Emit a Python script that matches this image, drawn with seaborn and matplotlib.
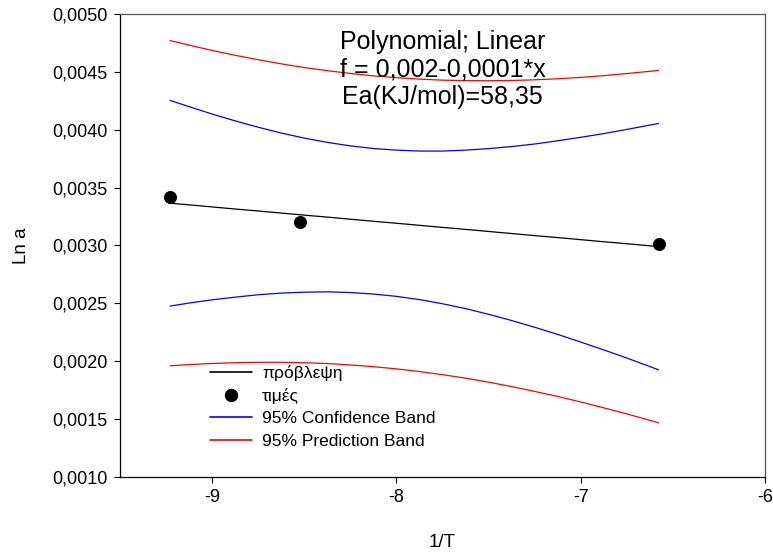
import sys

import numpy as np
import pandas as pd
import matplotlib
matplotlib.use("Agg")
import matplotlib.pyplot as plt
from matplotlib.lines import Line2D
from matplotlib.ticker import FuncFormatter
import seaborn as sns

#****************************************************************************
# data
#****************************************************************************

# measured points
pointX = [-9.228, -8.521, -6.578]
pointY = [0.003421, 0.003205, 0.003010]

# regression line and bands, sampled along x
bandX = [-9.228, -9.125, -9.0, -8.875, -8.75, -8.625, -8.5, -8.375, -8.25, -8.125, -8.0,
         -7.875, -7.75, -7.625, -7.5, -7.375, -7.25, -7.125, -7.0, -6.875, -6.75, -6.578]
fitY = [0.003364, 0.003350, 0.003332, 0.003314, 0.003297, 0.003279, 0.003261, 0.003244,
        0.003226, 0.003208, 0.003191, 0.003173, 0.003155, 0.003138, 0.003120, 0.003102,
        0.003084, 0.003067, 0.003049, 0.003031, 0.003014, 0.002989]
confHi = [0.004253, 0.004199, 0.004135, 0.004076, 0.004021, 0.003971, 0.003927, 0.003890,
          0.003860, 0.003837, 0.003823, 0.003815, 0.003815, 0.003823, 0.003836, 0.003854,
          0.003876, 0.003904, 0.003934, 0.003966, 0.004002, 0.004054]
confLo = [0.002475, 0.002501, 0.002529, 0.002552, 0.002573, 0.002587, 0.002595, 0.002598,
          0.002592, 0.002579, 0.002559, 0.002531, 0.002495, 0.002453, 0.002404, 0.002350,
          0.002292, 0.002230, 0.002164, 0.002096, 0.002026, 0.001924]
predHi = [0.004770, 0.004731, 0.004685, 0.004643, 0.004605, 0.004569, 0.004537, 0.004510,
          0.004486, 0.004465, 0.004450, 0.004437, 0.004428, 0.004424, 0.004423, 0.004425,
          0.004431, 0.004440, 0.004452, 0.004467, 0.004485, 0.004512]
predLo = [0.001958, 0.001969, 0.001979, 0.001985, 0.001989, 0.001989, 0.001985, 0.001978,
          0.001966, 0.001951, 0.001932, 0.001909, 0.001882, 0.001852, 0.001817, 0.001779,
          0.001737, 0.001694, 0.001646, 0.001595, 0.001543, 0.001466]

xTicks = [-9, -8, -7, -6]
yTicks = [0.0010, 0.0015, 0.0020, 0.0025, 0.0030, 0.0035, 0.0040, 0.0045, 0.0050]

#****************************************************************************

def main():
    sns.set_style("white")
    plt.rcParams['font.family'] = ['Liberation Sans', 'DejaVu Sans']
    plt.rcParams['axes.unicode_minus'] = False
    plt.rcParams['text.color'] = 'black'
    plt.rcParams['axes.labelcolor'] = 'black'

    fig = plt.figure(figsize=(7.73, 5.53), dpi=100)
    ax = fig.add_axes([0.1552, 0.138, 0.8345, 0.8367])

    dfrm = pd.DataFrame({'x': bandX, 'fit': fitY,
                         'confHi': confHi, 'confLo': confLo,
                         'predHi': predHi, 'predLo': predLo})
    pts = pd.DataFrame({'x': pointX, 'y': pointY})

    lw = 0.9
    sns.lineplot(data=dfrm, x='x', y='fit', ax=ax, color='black', lw=lw)
    sns.scatterplot(data=pts, x='x', y='y', ax=ax, color='black', s=75,
                    edgecolor='black', zorder=3)
    sns.lineplot(data=dfrm, x='x', y='confHi', ax=ax, color='blue', lw=lw)
    sns.lineplot(data=dfrm, x='x', y='confLo', ax=ax, color='blue', lw=lw)
    sns.lineplot(data=dfrm, x='x', y='predHi', ax=ax, color='red', lw=lw)
    sns.lineplot(data=dfrm, x='x', y='predLo', ax=ax, color='red', lw=lw)

    ax.set_xlim(-9.5, -6)
    ax.set_ylim(0.0010, 0.0050)
    ax.set_xticks(xTicks)
    ax.set_yticks(yTicks)
    ax.yaxis.set_major_formatter(FuncFormatter(lambda v, p: ("%.4f" % v).replace('.', ',')))
    ax.xaxis.set_major_formatter(FuncFormatter(lambda v, p: "%d" % v))
    ax.tick_params(axis='both', direction='out', length=4.2, width=0.8,
                   colors='black', labelsize=13, pad=5,
                   bottom=True, left=True)

    for side in ['left', 'bottom']:
        ax.spines[side].set_color('black')
        ax.spines[side].set_linewidth(0.9)
    for side in ['top', 'right']:
        ax.spines[side].set_color('#555555')
        ax.spines[side].set_linewidth(0.9)

    ax.set_xlabel('1/T', fontsize=13.5, labelpad=20, color='black')
    ax.set_ylabel('Ln a', fontsize=13.5, labelpad=16, color='black')

    ax.text(0.5, 0.965, 'Polynomial; Linear\nf = 0,002-0,0001*x\nEa(KJ/mol)=58,35',
            transform=ax.transAxes, ha='center', va='top', fontsize=18,
            linespacing=1.18, color='black')

    handles = [Line2D([], [], color='black', lw=1.2),
               Line2D([], [], color='black', lw=0, marker='o', markersize=8.6),
               Line2D([], [], color='blue', lw=1.2),
               Line2D([], [], color='red', lw=1.2)]
    labels = ['πρόβλεψη', 'τιμές', '95% Confidence Band', '95% Prediction Band']
    ax.legend(handles, labels, loc='upper left', bbox_to_anchor=(0.1395, 0.242),
              frameon=False, fontsize=12.5, borderpad=0, borderaxespad=0,
              handlelength=2.4, handletextpad=0.6, labelspacing=0.42,
              labelcolor='black')

    fig.savefig('out.png', dpi=100)


if (__name__ == "__main__"):
    sys.exit(main())
